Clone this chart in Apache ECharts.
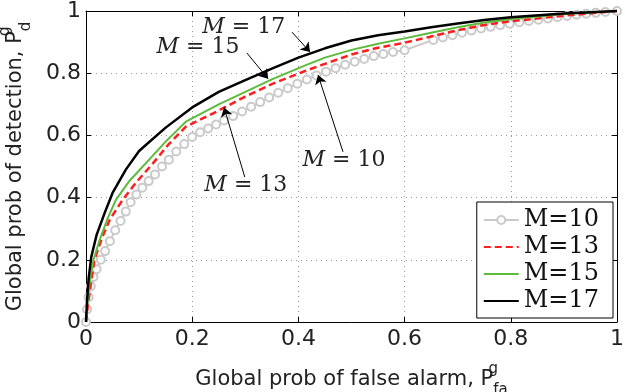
<!DOCTYPE html>
<html>
<head>
<meta charset="utf-8">
<script src="https://cdn.jsdelivr.net/npm/echarts@6/dist/echarts.min.js"></script>
<style>
html, body { margin: 0; padding: 0; background: #fff; }
#main { width: 625px; height: 392px; }
</style>
</head>
<body>
<div id="main"></div>
<script>
// ROC curves, global detection vs global false alarm
var chart = echarts.init(document.getElementById('main'));

var names = ['M=10', 'M=13', 'M=15', 'M=17'];

// M=10 (gray, circle markers)
var m10x = [0, 0.002, 0.005, 0.009, 0.014, 0.02, 0.028, 0.036, 0.045, 0.055, 0.065, 0.075, 0.084, 0.095, 0.106, 0.118, 0.13, 0.143, 0.156, 0.17, 0.185, 0.2, 0.215, 0.23, 0.245, 0.26, 0.277, 0.294, 0.311, 0.328, 0.345, 0.362, 0.38, 0.398, 0.416, 0.434, 0.452, 0.47, 0.488, 0.506, 0.524, 0.542, 0.56, 0.578, 0.6, 0.654, 0.672, 0.69, 0.708, 0.726, 0.744, 0.762, 0.78, 0.798, 0.816, 0.834, 0.852, 0.87, 0.888, 0.906, 0.924, 0.942, 0.96, 0.978, 1];
var m10y = [0, 0.04, 0.08, 0.115, 0.145, 0.17, 0.2, 0.228, 0.26, 0.295, 0.325, 0.355, 0.385, 0.41, 0.432, 0.453, 0.474, 0.5, 0.522, 0.548, 0.572, 0.595, 0.61, 0.622, 0.635, 0.648, 0.662, 0.677, 0.692, 0.707, 0.722, 0.737, 0.752, 0.766, 0.78, 0.793, 0.805, 0.816, 0.827, 0.837, 0.846, 0.855, 0.862, 0.868, 0.874, 0.907, 0.915, 0.922, 0.93, 0.937, 0.944, 0.949, 0.954, 0.959, 0.964, 0.968, 0.972, 0.976, 0.98, 0.984, 0.988, 0.991, 0.994, 0.997, 1];

// M=13 (red dashed)
var m13x = [0, 0.004, 0.009, 0.016, 0.03, 0.045, 0.068, 0.095, 0.126, 0.155, 0.188, 0.25, 0.3, 0.35, 0.414, 0.45, 0.5, 0.55, 0.6, 0.65, 0.7, 0.75, 0.8, 0.9, 1];
var m13y = [0, 0.06, 0.12, 0.2, 0.27, 0.33, 0.39, 0.45, 0.51, 0.57, 0.628, 0.68, 0.725, 0.765, 0.808, 0.83, 0.86, 0.882, 0.898, 0.918, 0.938, 0.955, 0.967, 0.985, 1];

// M=15 (green)
var m15x = [0, 0.003, 0.007, 0.014, 0.025, 0.04, 0.056, 0.08, 0.115, 0.15, 0.188, 0.25, 0.3, 0.35, 0.414, 0.45, 0.5, 0.55, 0.6, 0.65, 0.7, 0.75, 0.8, 0.9, 1];
var m15y = [0, 0.07, 0.13, 0.2, 0.26, 0.33, 0.392, 0.45, 0.515, 0.58, 0.644, 0.7, 0.74, 0.78, 0.826, 0.85, 0.875, 0.895, 0.912, 0.93, 0.948, 0.963, 0.974, 0.99, 1];

// M=17 (black)
var m17x = [0, 0.002, 0.005, 0.01, 0.02, 0.035, 0.05, 0.075, 0.1, 0.11, 0.15, 0.2, 0.25, 0.3, 0.35, 0.4, 0.45, 0.5, 0.55, 0.6, 0.65, 0.7, 0.75, 0.8, 0.9, 1];
var m17y = [0, 0.07, 0.14, 0.21, 0.28, 0.35, 0.415, 0.49, 0.55, 0.565, 0.625, 0.69, 0.74, 0.778, 0.815, 0.85, 0.88, 0.905, 0.922, 0.934, 0.948, 0.96, 0.971, 0.98, 0.992, 1];

// annotation arrows: [label, text x, text y, tail x, tail y, head x, head y]
var notes = [
    ['17', 0.297, 0.949, 0.388, 0.932, 0.422, 0.868],
    ['15', 0.211, 0.884, 0.303, 0.865, 0.343, 0.782],
    ['13', 0.301, 0.441, 0.299, 0.466, 0.26, 0.69],
    ['10', 0.486, 0.521, 0.484, 0.547, 0.437, 0.794]
];

function zip(xs, ys) {
    var out = [];
    for (var i = 0; i < xs.length; i++) out.push([xs[i], ys[i]]);
    return out;
}

var sansFont = 'DejaVu Sans';
var serifFont = 'DejaVu Serif';

var arrowLines = notes.map(function (n) {
    return [{ coord: [n[3], n[4]] }, { coord: [n[5], n[6]] }];
});
var arrowTexts = notes.map(function (n) {
    return { coord: [n[1], n[2]], value: n[0] };
});

var axisTitleRich = {
    n: { fontFamily: sansFont, fontSize: 21, color: '#222', verticalAlign: 'middle', lineHeight: 40 },
    sup: { fontFamily: sansFont, fontSize: 15, color: '#222', verticalAlign: 'top', lineHeight: 40, width: 0, padding: [2, 0, 0, 0] },
    sub: { fontFamily: sansFont, fontSize: 15, color: '#222', verticalAlign: 'bottom', lineHeight: 40, padding: [0, 0, 2, 0] }
};

function frameAxis(pos) {
    return {
        type: 'value', position: pos, min: 0, max: 1, interval: 0.2,
        axisLine: { show: true, onZero: false, lineStyle: { color: '#000', width: 1 } },
        axisTick: { show: true, inside: true, length: 5, lineStyle: { color: '#000' } },
        axisLabel: { show: false },
        splitLine: { show: false }
    };
}

// hide the marker in legend entries of plain lines
var noMark = { opacity: 0 };

option = {
    animation: false,
    backgroundColor: '#fff',
    grid: { left: 86, right: 8, top: 11, bottom: 70, containLabel: false, outerBoundsMode: 'none' },
    legend: {
        data: [
            { name: names[0] },
            { name: names[1], itemStyle: noMark },
            { name: names[2], itemStyle: noMark },
            { name: names[3], itemStyle: noMark }
        ],
        orient: 'vertical',
        right: 12,
        bottom: 74,
        padding: [6, 14, 5, 6],
        itemGap: 3,
        itemWidth: 35,
        itemHeight: 10,
        backgroundColor: '#fff',
        borderColor: '#000',
        borderWidth: 1,
        borderRadius: 0,
        selectedMode: false,
        textStyle: { fontFamily: serifFont, fontSize: 24, color: '#111', lineHeight: 20 }
    },
    xAxis: [{
        type: 'value', min: 0, max: 1, interval: 0.2,
        name: '{n|Global prob of false alarm, P}{sup|g}{sub|fa}',
        nameLocation: 'middle',
        nameGap: 38,
        nameTextStyle: { rich: axisTitleRich },
        axisLine: { show: true, onZero: false, lineStyle: { color: '#000', width: 1 } },
        axisTick: { show: true, inside: true, length: 5, lineStyle: { color: '#000' } },
        axisLabel: { fontFamily: sansFont, fontSize: 22, color: '#222', margin: 6 },
        splitLine: { show: true, lineStyle: { color: '#999', type: [1, 4], width: 1 } }
    }, frameAxis('top')],
    yAxis: [{
        type: 'value', min: 0, max: 1, interval: 0.2,
        name: '{n|Global prob of detection, P}{sup|g}{sub|d}',
        nameLocation: 'middle',
        nameGap: 44,
        nameTextStyle: { rich: axisTitleRich },
        axisLine: { show: true, onZero: false, lineStyle: { color: '#000', width: 1 } },
        axisTick: { show: true, inside: true, length: 5, lineStyle: { color: '#000' } },
        axisLabel: { fontFamily: sansFont, fontSize: 22, color: '#222', margin: 5 },
        splitLine: { show: true, lineStyle: { color: '#999', type: [1, 4], width: 1 } }
    }, frameAxis('right')],
    series: [
        {
            name: 'M=10', type: 'line', clip: false,
            data: zip(m10x, m10y),
            symbol: 'emptyCircle', symbolSize: 8, showSymbol: true, showAllSymbol: true,
            color: '#cacaca',
            lineStyle: { color: '#cacaca', width: 2 },
            itemStyle: { color: '#cacaca', borderWidth: 2 },
            z: 2
        },
        {
            name: 'M=13', type: 'line', clip: false,
            data: zip(m13x, m13y),
            showSymbol: false, symbol: 'none',
            color: '#ff1e1e',
            lineStyle: { color: '#ff1e1e', width: 2.5, type: [7, 4] },
            z: 3
        },
        {
            name: 'M=15', type: 'line', clip: false,
            data: zip(m15x, m15y),
            showSymbol: false, symbol: 'none',
            color: '#5cbb3c',
            lineStyle: { color: '#5cbb3c', width: 2 },
            z: 4
        },
        {
            name: 'M=17', type: 'line', clip: false,
            data: zip(m17x, m17y),
            showSymbol: false, symbol: 'none',
            color: '#000',
            lineStyle: { color: '#000', width: 2.5 },
            z: 5,
            markLine: {
                silent: true,
                symbol: ['none', 'arrow'],
                symbolSize: 9,
                label: { show: false },
                lineStyle: { color: '#000', width: 1, type: 'solid' },
                data: arrowLines
            },
            markPoint: {
                silent: true,
                symbol: 'circle',
                symbolSize: 1,
                itemStyle: { color: 'rgba(0,0,0,0)' },
                label: {
                    show: true,
                    position: 'inside',
                    formatter: function (p) { return '{i|M} = ' + p.value; },
                    fontFamily: serifFont,
                    fontSize: 22,
                    color: '#222',
                    rich: { i: { fontFamily: serifFont, fontStyle: 'italic', fontSize: 22, color: '#222' } }
                },
                data: arrowTexts
            }
        }
    ]
};

chart.setOption(option);
window.onresize = chart.resize;
</script>
</body>
</html>
